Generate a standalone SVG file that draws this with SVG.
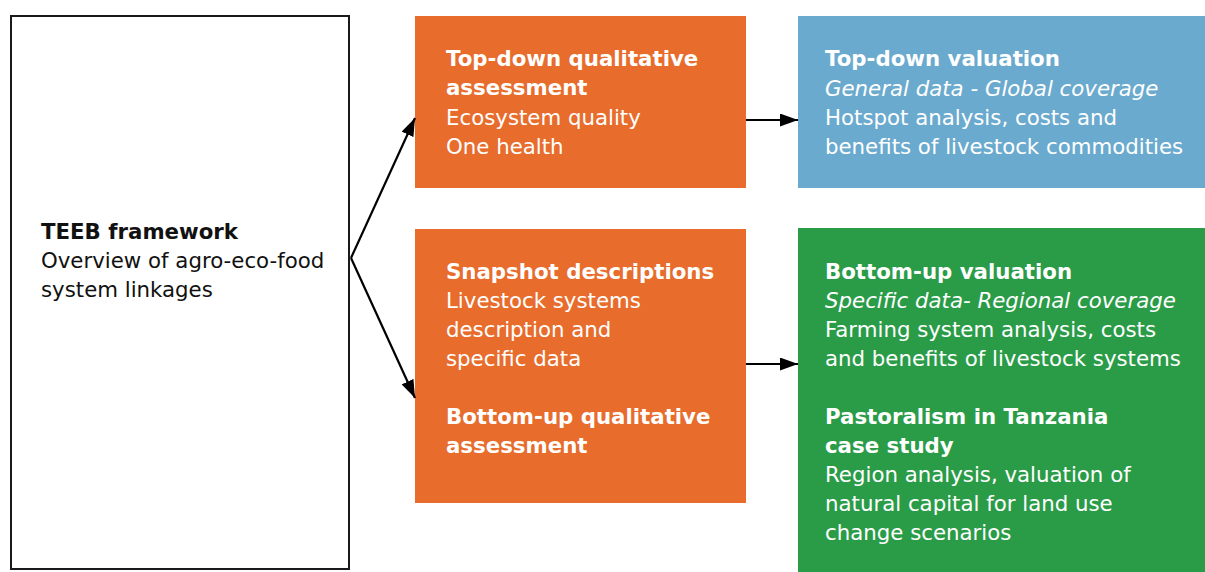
<svg xmlns="http://www.w3.org/2000/svg" width="1205" height="572" viewBox="0 0 1205 572">
<style>
text{font-family:"DejaVu Sans","Verdana","Liberation Sans",sans-serif;font-size:21.3px}
.w{fill:#ffffff}
.k{fill:#111111}
.b{font-weight:bold}
.i{font-style:italic}
.conn{stroke:#000;stroke-width:2.2;fill:none}
</style>
<defs>
<marker id="ah" markerUnits="userSpaceOnUse" markerWidth="19" markerHeight="13" refX="18" refY="6.5" orient="auto">
<path d="M0,0 L18,6.5 L0,13 z" fill="#000"/>
</marker>
</defs>
<rect width="1205" height="572" fill="#ffffff"/>
<g id="teeb">
<rect x="11" y="16" width="338" height="553" fill="#ffffff" stroke="#1a1a1a" stroke-width="2"/>
<text x="41" y="239" class="k b">TEEB framework</text>
<text x="41" y="268" class="k">Overview of agro-eco-food</text>
<text x="41" y="297" class="k">system linkages</text>
</g>
<g id="topdown-qual">
<rect x="415" y="16" width="331" height="172" fill="#E86C2C"/>
<text x="446" y="66" class="w b">Top-down qualitative</text>
<text x="446" y="95" class="w b">assessment</text>
<text x="446" y="125" class="w">Ecosystem quality</text>
<text x="446" y="154" class="w">One health</text>
</g>
<g id="topdown-val">
<rect x="798" y="16" width="407" height="172" fill="#6AAACE"/>
<text x="825" y="66" class="w b">Top-down valuation</text>
<text x="825" y="96" class="w i">General data - Global coverage</text>
<text x="825" y="125" class="w">Hotspot analysis, costs and</text>
<text x="825" y="154" class="w">benefits of livestock commodities</text>
</g>
<g id="snapshot">
<rect x="415" y="229" width="331" height="274" fill="#E86C2C"/>
<text x="446" y="279" class="w b">Snapshot descriptions</text>
<text x="446" y="308" class="w">Livestock systems</text>
<text x="446" y="337" class="w">description and</text>
<text x="446" y="366" class="w">specific data</text>
<text x="446" y="424" class="w b">Bottom-up qualitative</text>
<text x="446" y="453" class="w b">assessment</text>
</g>
<g id="bottomup-val">
<rect x="798" y="228" width="407" height="344" fill="#2A9C48"/>
<text x="825" y="279" class="w b">Bottom-up valuation</text>
<text x="825" y="308" class="w i">Specific data- Regional coverage</text>
<text x="825" y="337" class="w">Farming system analysis, costs</text>
<text x="825" y="366" class="w">and benefits of livestock systems</text>
<text x="825" y="424" class="w b">Pastoralism in Tanzania</text>
<text x="825" y="453" class="w b">case study</text>
<text x="825" y="482" class="w">Region analysis, valuation of</text>
<text x="825" y="511" class="w">natural capital for land use</text>
<text x="825" y="540" class="w">change scenarios</text>
</g>
<g id="connectors">
<line class="conn" x1="351" y1="258" x2="415" y2="118" marker-end="url(#ah)"/>
<line class="conn" x1="351" y1="258" x2="415" y2="398" marker-end="url(#ah)"/>
<line class="conn" x1="746" y1="120" x2="798" y2="120" marker-end="url(#ah)"/>
<line class="conn" x1="746" y1="364" x2="798" y2="364" marker-end="url(#ah)"/>
</g>
</svg>
